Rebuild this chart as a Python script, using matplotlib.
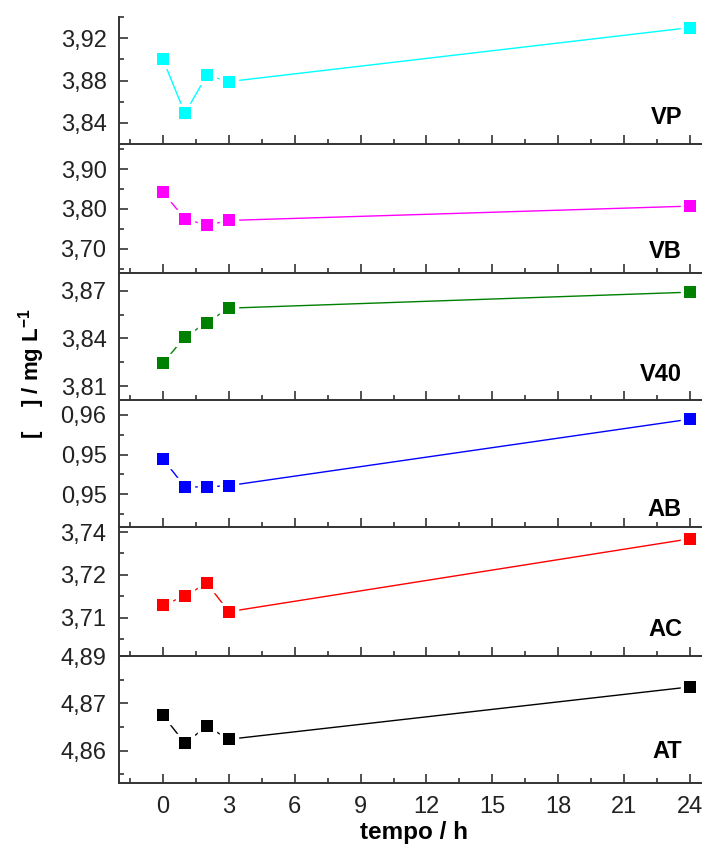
import matplotlib
matplotlib.use("Agg")
import matplotlib.pyplot as plt
from matplotlib.ticker import FixedLocator, FuncFormatter

plt.rcParams['font.family'] = ['Liberation Sans', 'DejaVu Sans']
plt.rcParams['mathtext.fontset'] = 'custom'
plt.rcParams['mathtext.rm'] = 'Liberation Sans:bold'
plt.rcParams['mathtext.bf'] = 'Liberation Sans:bold'
plt.rcParams['mathtext.default'] = 'bf'

# sampling times (h)
tempo = [0, 1, 2, 3, 24]

# concentration series, top panel first
names = ["VP", "VB", "V40", "AB", "AC", "AT"]
colors = ["#00FFFF", "#FF00FF", "#008000", "#0000FF", "#FF0000", "#000000"]
vp = [3.900, 3.849, 3.885, 3.879, 3.930]
vb = [3.842, 3.775, 3.759, 3.771, 3.807]
v40 = [3.8245, 3.841, 3.850, 3.859, 3.869]
ab = [0.95157, 0.94874, 0.94874, 0.94887, 0.95557]
ac = [3.7155, 3.7181, 3.7217, 3.7137, 3.7341]
at = [4.8710, 4.8639, 4.8682, 4.8649, 4.8782]
series = [vp, vb, v40, ab, ac, at]

# y-axis ranges and tick positions per panel
ylims = [(3.82, 3.94), (3.639, 3.963), (3.8015, 3.881),
         (0.9447, 0.9575), (3.7013, 3.7374), (4.8538, 4.88605)]
ymajor = [[3.84, 3.88, 3.92], [3.70, 3.80, 3.90], [3.81, 3.84, 3.87],
          [0.948, 0.952, 0.956], [3.712, 3.724, 3.736], [4.862, 4.874, 4.886]]
yminor = [[3.86, 3.90, 3.94], [3.65, 3.75, 3.85, 3.95], [3.825, 3.855],
          [0.946, 0.950, 0.954], [3.706, 3.718, 3.730], [4.856, 4.868, 4.880]]

xmajor = [0, 3, 6, 9, 12, 15, 18, 21, 24]
xminor = [-1.5, 1.5, 4.5, 7.5, 10.5, 13.5, 16.5, 19.5, 22.5]

W, H = 702, 846
fig = plt.figure(figsize=(W / 100, H / 100), dpi=100)

# panel edges in pixels from the top
edges = [17, 144, 273, 400, 527, 656, 783]
left_px, right_px = 119, 712
label_y = [118, 252, 374, 509, 630, 751]

fmt = FuncFormatter(lambda v, p: f"{v:.2f}".replace(".", ","))
tick_color = "#222222"
spine_color = "#333333"

for i, (name, col, vals) in enumerate(zip(names, colors, series)):
    top, bot = edges[i], edges[i + 1]
    ax = fig.add_axes([left_px / W, 1 - bot / H, (right_px - left_px) / W, (bot - top) / H])
    ax.set_facecolor("none")
    ax.plot(tempo, vals, color=col, lw=1.0, zorder=2, clip_on=False)
    ax.plot(tempo, vals, ls="none", marker="s", ms=12.5, mfc="white", mec="white",
            zorder=3, clip_on=False)
    ax.plot(tempo, vals, ls="none", marker="s", ms=8.3, mfc=col, mec=col, mew=0,
            zorder=4, clip_on=False)
    ax.set_xlim(-2, 25)
    ax.set_ylim(*ylims[i])
    for s in ("top", "right"):
        ax.spines[s].set_visible(False)
    for s in ("left", "bottom"):
        ax.spines[s].set_color(spine_color)
        ax.spines[s].set_linewidth(1.4)
    ax.xaxis.set_major_locator(FixedLocator(xmajor))
    ax.xaxis.set_minor_locator(FixedLocator(xminor))
    ax.yaxis.set_major_locator(FixedLocator(ymajor[i]))
    ax.yaxis.set_minor_locator(FixedLocator(yminor[i]))
    ax.yaxis.set_major_formatter(fmt)
    ax.tick_params(which="both", direction="in", color=spine_color, width=1.2,
                   labelsize=17, labelcolor=tick_color)
    ax.tick_params(which="major", length=6.5)
    ax.tick_params(which="minor", length=3.5)
    ax.tick_params(axis="y", which="major", pad=9)
    ax.tick_params(axis="x", which="major", pad=9)
    if i < len(names) - 1:
        ax.tick_params(axis="x", labelbottom=False)
    fig.text(682 / W, 1 - label_y[i] / H, name, ha="right", va="center",
             fontsize=17, fontweight="bold", color="black")

fig.text(414 / W, 1 - 832 / H, "tempo / h", ha="center", va="center",
         fontsize=17.5, fontweight="bold")
fig.text(32 / W, 1 - 374 / H, r"[    ] / mg L$^{-1}$", rotation=90, ha="center",
         va="center", fontsize=16, fontweight="bold")

fig.savefig("out.png", dpi=100)
